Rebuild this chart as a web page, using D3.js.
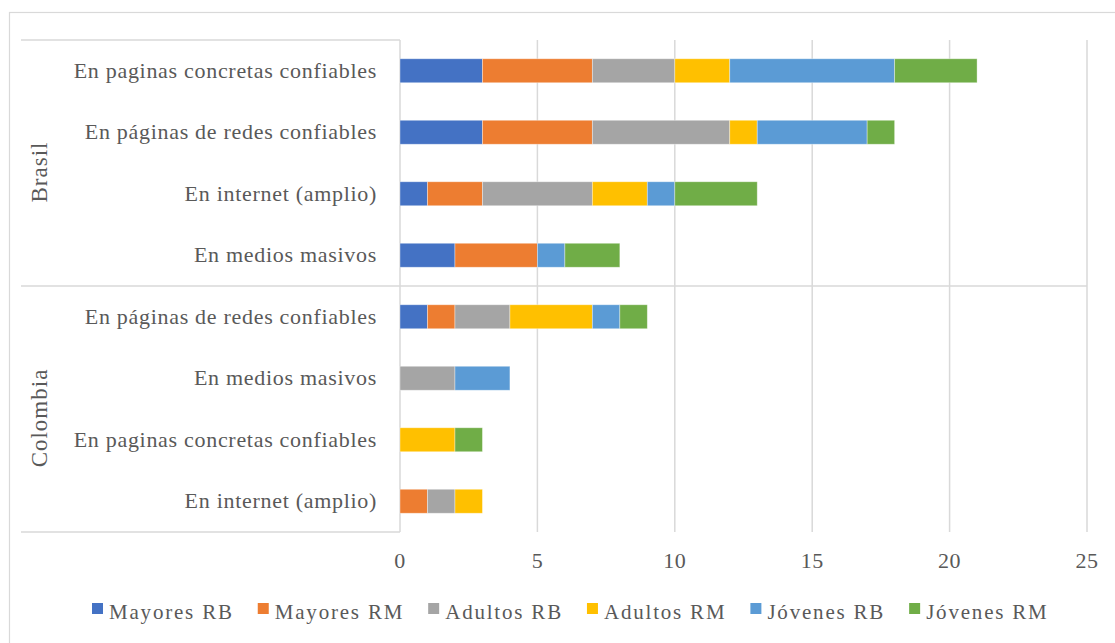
<!DOCTYPE html>
<html><head><meta charset="utf-8">
<script src="https://cdn.jsdelivr.net/npm/d3@7"></script>
<style>body{margin:0;background:#fff}svg{display:block}text{font-family:"Liberation Serif","Times New Roman",serif;fill:#595959}</style>
</head><body><svg id="c" width="1115" height="643"></svg>
<script>
const groups = ["Brasil","Colombia"];
const categories = [
  "En paginas concretas confiables","En páginas de redes confiables","En internet (amplio)","En medios masivos",
  "En páginas de redes confiables","En medios masivos","En paginas concretas confiables","En internet (amplio)"];
const categoryGroup = ["Brasil","Brasil","Brasil","Brasil","Colombia","Colombia","Colombia","Colombia"];
const seriesNames = ["Mayores RB","Mayores RM","Adultos RB","Adultos RM","Jóvenes RB","Jóvenes RM"];
const mayoresRB = [3,3,1,2,1,0,0,0];
const mayoresRM = [4,4,2,3,1,0,0,1];
const adultosRB = [3,5,4,0,2,2,0,1];
const adultosRM = [2,1,2,0,3,0,2,1];
const jovenesRB = [6,4,1,1,1,2,0,0];
const jovenesRM = [3,1,3,2,1,0,1,0];
const colors = ["#4472C4","#ED7D31","#A5A5A5","#FFC000","#5B9BD5","#70AD47"];
const xTicks = [0,5,10,15,20,25];

const seriesValues = [mayoresRB,mayoresRM,adultosRB,adultosRM,jovenesRB,jovenesRM];
const rows = categories.map((c,i)=>{const r={key:i}; seriesNames.forEach((s,j)=>r[s]=seriesValues[j][i]); return r;});

const svg = d3.select("#c");
const L=400, R=1087, T=40, B=532, labL=21;
const x = d3.scaleLinear().domain([0,25]).range([L,R]);
const y = d3.scaleBand().domain(d3.range(categories.length)).range([T,B]).paddingInner(0.61).paddingOuter(0.305);

// outer border
svg.append("rect").attr("x",9.5).attr("y",12.5).attr("width",1130).attr("height",650)
  .attr("fill","none").attr("stroke","#d9d9d9").attr("stroke-width",1.2);

// gridlines
svg.append("g").selectAll("line").data(xTicks).join("line")
  .attr("x1",d=>x(d)).attr("x2",d=>x(d)).attr("y1",T).attr("y2",B)
  .attr("stroke","#d9d9d9").attr("stroke-width",1.5);

// category panel lines
const lines = svg.append("g").attr("stroke","#d9d9d9").attr("stroke-width",1.5);
lines.append("line").attr("x1",labL).attr("x2",L).attr("y1",T).attr("y2",T);
const sepY = (y(3)+y.bandwidth()+y(4))/2;
lines.append("line").attr("x1",labL).attr("x2",R).attr("y1",sepY).attr("y2",sepY);
lines.append("line").attr("x1",labL).attr("x2",L).attr("y1",B).attr("y2",B);

// bars
const stack = d3.stack().keys(seriesNames)(rows);
svg.append("g").selectAll("g").data(stack).join("g")
  .attr("fill",(d,i)=>colors[i])
  .selectAll("rect").data(d=>d.filter(p=>p[1]-p[0]>0)).join("rect")
  .attr("x",d=>x(d[0])).attr("width",d=>x(d[1])-x(d[0]))
  .attr("y",d=>y(d.data.key)).attr("height",y.bandwidth())
  .attr("stroke","#ffffff").attr("stroke-opacity",0.45).attr("stroke-width",0.8);

// x tick labels
svg.append("g").selectAll("text").data(xTicks).join("text")
  .attr("x",d=>x(d)).attr("y",568).attr("text-anchor","middle")
  .attr("font-size",22).attr("letter-spacing",0.5).text(d=>d);

// category labels
svg.append("g").selectAll("text").data(categories).join("text")
  .attr("x",377).attr("y",(d,i)=>y(i)+y.bandwidth()/2+7).attr("text-anchor","end")
  .attr("font-size",22).attr("letter-spacing",0.7).text(d=>d);

// group labels
groups.forEach(g=>{
  const idx = categoryGroup.map((c,i)=>c===g?i:-1).filter(i=>i>=0);
  const y0 = y(idx[0]) - y.step()*y.paddingInner()/2;
  const y1 = y(idx[idx.length-1]) + y.bandwidth() + y.step()*y.paddingInner()/2;
  const cy = (Math.max(y0,T)+Math.min(y1,B))/2 + 9;
  svg.append("text").attr("transform",`translate(47,${cy}) rotate(-90)`)
    .attr("text-anchor","middle").attr("font-size",23).attr("letter-spacing",1).text(g);
});

// legend
const lg = svg.append("g");
let lx = 92;
seriesNames.forEach((s,i)=>{
  lg.append("rect").attr("x",lx).attr("y",603).attr("width",11).attr("height",11).attr("fill",colors[i]);
  const t = lg.append("text").attr("x",lx+17).attr("y",619).attr("font-size",21).attr("letter-spacing",1.8).text(s);
  lx += 17 + t.node().getComputedTextLength() + 24;
});
</script></body></html>
